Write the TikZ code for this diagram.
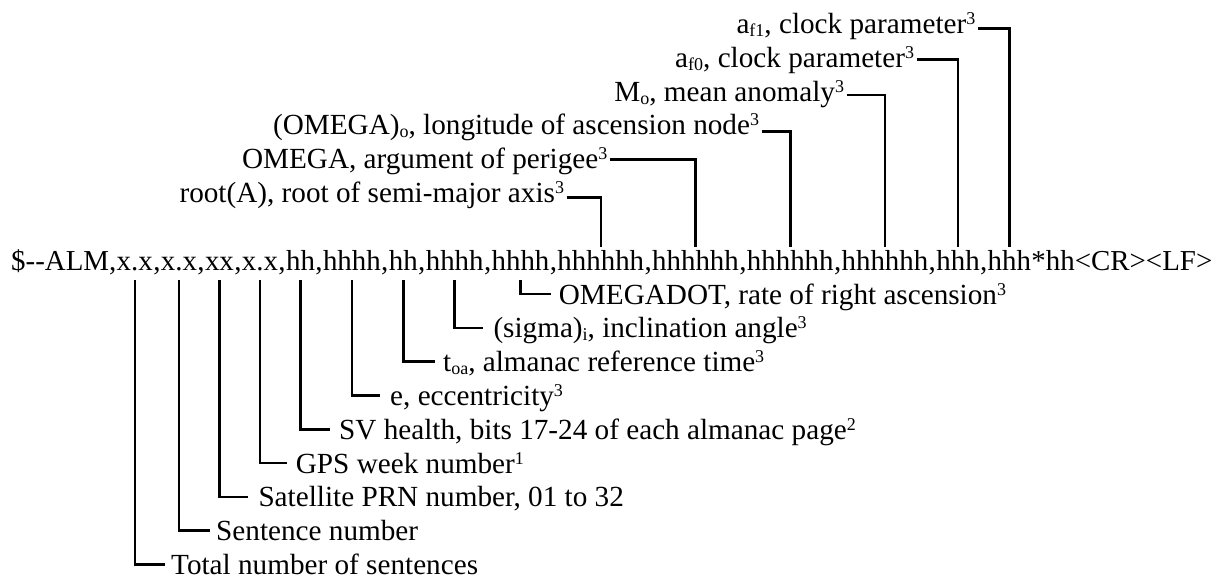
\documentclass[tikz,border=0pt]{standalone}
\usepackage{fontspec}
\setmainfont{Liberation Serif}
\newcommand\supx[1]{\raisebox{9pt}{\fontsize{18}{18}\selectfont #1}}
\newcommand\subx[1]{\raisebox{-3pt}{\fontsize{18}{18}\selectfont #1}}
\begin{document}
\begin{tikzpicture}[x=1pt,y=1pt,
  every node/.style={font=\fontsize{29.2}{35}\selectfont, inner sep=0pt, text=black},
  piece/.style={anchor=base west, font=\fontsize{28.9}{35}\selectfont},
  fld/.style={piece, text height=23.3pt, text depth=10pt},
  conn/.style={draw=black, line width=2.6pt, line join=miter},
  blab/.style={anchor=west, text height=20pt, text depth=0pt, inner ysep=0pt, inner xsep=8pt},
  tlab/.style={anchor=base east, inner xsep=2.5pt, inner ysep=0pt}]
\useasboundingbox (0,0) rectangle (1222,-579);

% main sentence, built from pieces
\node[piece] (n0) at (11,-270) {\$-{}-ALM,};
\node[fld] (f1) at (n0.base east) {x.x};
\node[piece] (c1) at (f1.base east) {,};
\node[fld] (f2) at (c1.base east) {x.x};
\node[piece] (c2) at (f2.base east) {,};
\node[fld] (f3) at (c2.base east) {xx};
\node[piece] (c3) at (f3.base east) {,};
\node[fld] (f4) at (c3.base east) {x.x};
\node[piece] (c4) at (f4.base east) {,};
\node[fld] (f5) at (c4.base east) {hh};
\node[piece] (c5) at (f5.base east) {,};
\node[fld] (f6) at (c5.base east) {hhhh};
\node[piece] (c6) at (f6.base east) {,};
\node[fld] (f7) at (c6.base east) {hh};
\node[piece] (c7) at (f7.base east) {,};
\node[fld] (f8) at (c7.base east) {hhhh};
\node[piece] (c8) at (f8.base east) {,};
\node[fld] (f9) at (c8.base east) {hhhh};
\node[piece] (c9) at (f9.base east) {,};
\node[fld] (f10) at (c9.base east) {hhhhhh};
\node[piece] (c10) at (f10.base east) {,};
\node[fld] (f11) at (c10.base east) {hhhhhh};
\node[piece] (c11) at (f11.base east) {,};
\node[fld] (f12) at (c11.base east) {hhhhhh};
\node[piece] (c12) at (f12.base east) {,};
\node[fld] (f13) at (c12.base east) {hhhhhh};
\node[piece] (c13) at (f13.base east) {,};
\node[fld] (f14) at (c13.base east) {hhh};
\node[piece] (c14) at (f14.base east) {,};
\node[fld] (f15) at (c14.base east) {hhh};
\node[piece] (tail) at (f15.base east) {*hh<CR><LF>};

% top labels
\node[tlab] (t15) at (978,-33.5) {a\subx{f1}, clock parameter\supx{3}};
\node[tlab] (t14) at (916.7,-67.3) {a\subx{f0}, clock parameter\supx{3}};
\node[tlab] (t13) at (846.7,-101) {M\subx{o}, mean anomaly\supx{3}};
\node[tlab] (t12) at (761.7,-134.7) {(OMEGA)\subx{o}, longitude of ascension node\supx{3}};
\node[tlab] (t11) at (610,-168.4) {OMEGA, argument of perigee\supx{3}};
\node[tlab] (t10) at (566.7,-202) {root(A), root of semi-major axis\supx{3}};

\draw[conn] ([yshift=5.2pt]t15.base east) -| (f15.north);
\draw[conn] ([yshift=8pt]t14.base east) -| (f14.north);
\draw[conn] ([yshift=6pt]t13.base east) -| (f13.north);
\draw[conn] ([yshift=3pt]t12.base east) -| (f12.north);
\draw[conn] ([yshift=9pt]t11.base east) -| (f11.north);
\draw[conn] ([yshift=4.7pt]t10.base east) -| (f10.north);

% bottom labels
\node[blab, inner xsep=8pt] (b9) at (550.7,-294) {OMEGADOT, rate of right ascension\supx{3}};
\node[blab, inner xsep=10pt] (b8) at (483.3,-327.8) {(sigma)\subx{i}, inclination angle\supx{3}};
\node[blab, inner xsep=8pt] (b7) at (435,-361.6) {t\subx{oa}, almanac reference time\supx{3}};
\node[blab, inner xsep=10pt] (b6) at (380,-395.4) {e, eccentricity\supx{3}};
\node[blab, inner xsep=9pt] (b5) at (330,-429.2) {SV health, bits 17-24 of each almanac page\supx{2}};
\node[blab, inner xsep=9pt] (b4) at (286.7,-463) {GPS week number\supx{1}};
\node[blab, inner xsep=10pt] (b3) at (248.3,-496.8) {Satellite PRN number, 01 to 32};
\node[blab, inner xsep=6pt] (b2) at (210,-530.6) {Sentence number};
\node[blab, inner xsep=6pt] (b1) at (165,-564.4) {Total number of sentences};

\draw[conn] (f9.south) |- (b9.west);
\draw[conn] (f8.south) |- (b8.west);
\draw[conn] (f7.south) |- (b7.west);
\draw[conn] (f6.south) |- (b6.west);
\draw[conn] (f5.south) |- (b5.west);
\draw[conn] (f4.south) |- (b4.west);
\draw[conn] (f3.south) |- (b3.west);
\draw[conn] (f2.south) |- (b2.west);
\draw[conn] (f1.south) |- (b1.west);
\end{tikzpicture}
\end{document}
